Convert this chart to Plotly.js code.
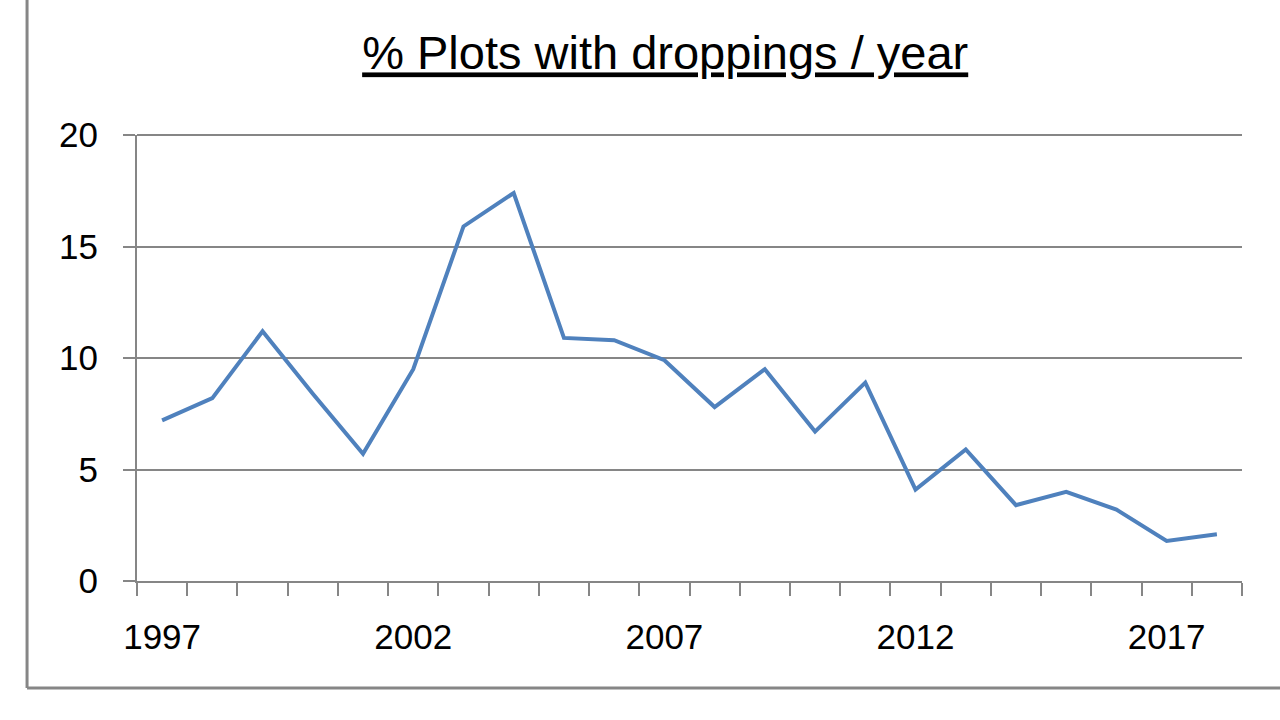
<!DOCTYPE html>
<html>
<head>
<meta charset="utf-8">
<script src="https://cdn.plot.ly/plotly-3.0.1.min.js"></script>
<style>html,body{margin:0;padding:0;background:#fff;}#chart{width:1280px;height:720px;}</style>
</head>
<body>
<div id="chart"></div>
<script>
const years = [1997,1998,1999,2000,2001,2002,2003,2004,2005,2006,2007,2008,2009,2010,2011,2012,2013,2014,2015,2016,2017,2018];
const pctPlots = [7.2,8.2,11.2,8.4,5.7,9.5,15.9,17.4,10.9,10.8,9.9,7.8,9.5,6.7,8.9,4.1,5.9,3.4,4.0,3.2,1.8,2.1];
const tickYears = [1997,2002,2007,2012,2017];
const yTicks = [0,5,10,15,20];

const boundaries = years.map(y => y - 0.5).concat([years[years.length-1] + 0.5]);
const gray = '#868686';
const font = "'Liberation Sans', Arial, sans-serif";
const yMax = yTicks[yTicks.length-1];

const trace = {
  x: years, y: pctPlots, type: 'scatter', mode: 'lines',
  line: {color: '#4f81bd', width: 4},
  hoverinfo: 'x+y'
};

const layout = {
  width: 1280, height: 720,
  margin: {l: 137, r: 38, t: 135, b: 139},
  paper_bgcolor: '#fff', plot_bgcolor: '#fff',
  showlegend: false,
  title: {
    text: '<u>% Plots with droppings / year</u>',
    font: {family: font, size: 47, color: '#000'},
    x: 0.478, xref: 'paper', xanchor: 'center',
    y: 1 - 53/720, yref: 'container', yanchor: 'middle'
  },
  xaxis: {
    range: [boundaries[0], boundaries[boundaries.length-1]],
    tickvals: tickYears, ticktext: tickYears.map(String),
    ticks: '', showgrid: false, zeroline: false,
    showline: true, linecolor: gray, linewidth: 2,
    tickfont: {family: font, size: 35, color: '#000'},
    ticklabelstandoff: 24,
    minor: {tickvals: boundaries, ticks: 'outside', ticklen: 13, tickwidth: 2, tickcolor: gray, showgrid: false}
  },
  yaxis: {
    range: [0, yMax], tickvals: yTicks,
    ticks: 'outside', ticklen: 12, tickwidth: 2, tickcolor: gray,
    showgrid: true, gridcolor: gray, gridwidth: 2,
    zeroline: false, showline: true, linecolor: gray, linewidth: 2,
    tickfont: {family: font, size: 35, color: '#000'},
    ticklabelstandoff: 18
  },
  shapes: [
    {type: 'line', xref: 'paper', yref: 'paper', x0: 0, x1: 1, y0: 1, y1: 1, layer: 'below', line: {color: gray, width: 2}},
    {type: 'line', xref: 'paper', yref: 'paper', x0: -0.0995, x1: -0.0995, y0: -0.24, y1: 1.35, line: {color: gray, width: 3}},
    {type: 'line', xref: 'paper', yref: 'paper', x0: -0.0995, x1: 1.1, y0: -0.24, y1: -0.24, line: {color: gray, width: 3}}
  ]
};

Plotly.newPlot('chart', [trace], layout, {displayModeBar: false, staticPlot: true});
</script>
</body>
</html>
